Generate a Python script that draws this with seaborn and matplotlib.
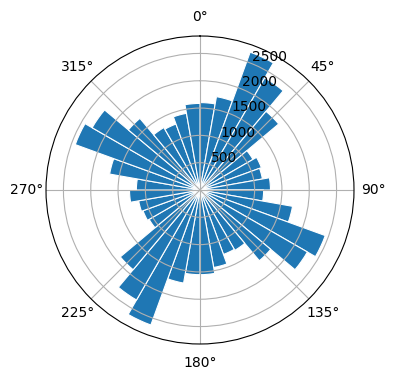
import numpy as np
import matplotlib
matplotlib.use("Agg")
import matplotlib.pyplot as plt
import seaborn as sns

# bin centres (degrees, clockwise from north) and counts
directions = [5, 15, 25, 35, 45, 55, 65, 75, 85, 95, 105, 115,
              125, 135, 145, 155, 165, 175, 185, 195, 205, 215, 225, 235,
              245, 255, 265, 275, 285, 295, 305, 315, 325, 335, 345, 355]
counts = [1600, 1735, 2685, 2370, 1880, 1120, 1195, 1160, 1290, 1165, 1720, 2440,
          2270, 1690, 1275, 1255, 1440, 1550, 1550, 1730, 2630, 2325, 1905, 1075,
          1110, 1140, 1290, 1165, 1680, 2430, 2280, 1712, 1320, 1285, 1425, 1585]
radial_ticks = [500, 1000, 1500, 2000, 2500]

color = sns.color_palette("tab10")[0]

fig = plt.figure(figsize=(3.96, 3.80), dpi=100)
ax = fig.add_axes([46 / 396, 36 / 380, 308 / 396, 308 / 380], projection="polar")
ax.set_theta_zero_location("N")
ax.set_theta_direction(-1)

theta = np.deg2rad(directions)
width = np.deg2rad(10)
ax.bar(theta, counts, width=width, bottom=0, color=color,
       edgecolor="white", linewidth=0.8)
ax.set_yticks(radial_ticks)
ax.set_rlabel_position(22.5)

fig.savefig("out.png", dpi=100)
